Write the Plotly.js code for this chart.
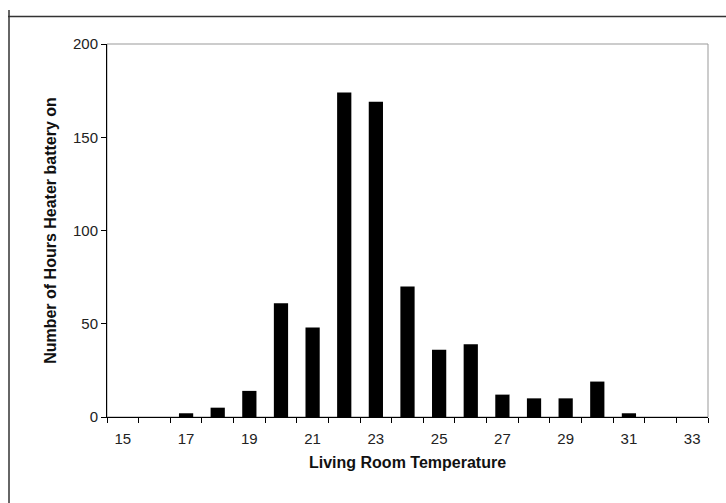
<!DOCTYPE html>
<html>
<head>
<meta charset="utf-8">
<script src="https://cdn.plot.ly/plotly-3.0.1.min.js"></script>
<style>
html,body{margin:0;padding:0;background:#fff;}
#chart{width:726px;height:503px;}
</style>
</head>
<body>
<div id="chart"></div>
<script>
const temperatures = [15,16,17,18,19,20,21,22,23,24,25,26,27,28,29,30,31,32,33];
const hoursOn =      [0, 0, 2, 5, 14,61,48,174,169,70,36,39,12,10,10,19,2, 0, 0];
const xTickLabels = ['15','17','19','21','23','25','27','29','31','33'];
const yTickValues = [0,50,100,150,200];

const labelVals = xTickLabels.map(Number);
const boundaries = temperatures.map(t => t - 0.5).concat([temperatures[temperatures.length-1] + 0.5]);

const L = 107, R = 708, T = 44, B = 417, W = 726, H = 503;
const px = x => (x - L) / (R - L);
const py = y => (B - y) / (B - T);

const family = 'Liberation Sans, Arial, sans-serif';
const tickFont = {family: family, size: 15, color: '#222'};
const titleFont = {family: family, size: 16, color: '#111', weight: 'bold'};

const data = [
  {type: 'bar', x: temperatures, y: hoursOn, marker: {color: '#000', line: {width: 0}}, width: 0.45, hoverinfo: 'x+y'},
  {type: 'scatter', x: labelVals, y: labelVals.map(() => 0), xaxis: 'x2', mode: 'markers', marker: {opacity: 0}, hoverinfo: 'skip', showlegend: false}
];

const layout = {
  width: W, height: H,
  margin: {l: L, r: W - R, t: T, b: H - B, pad: 0},
  paper_bgcolor: '#fff', plot_bgcolor: '#fff',
  showlegend: false,
  font: tickFont,
  xaxis: {
    range: [14.5, 33.5], tickmode: 'array', tickvals: boundaries, ticktext: boundaries.map(() => ''),
    ticks: 'outside', ticklen: 5, tickcolor: '#000', tickwidth: 1,
    showline: true, linecolor: '#000', linewidth: 1, showgrid: false, zeroline: false
  },
  xaxis2: {
    overlaying: 'x', matches: 'x', anchor: 'y', side: 'bottom',
    tickmode: 'array', tickvals: labelVals, ticktext: xTickLabels,
    ticks: '', ticklabelstandoff: 11, showline: false, showgrid: false, zeroline: false,
    tickfont: tickFont,
    title: {text: 'Living Room Temperature', font: titleFont, standoff: 10}
  },
  yaxis: {
    range: [0, 200], tickmode: 'array', tickvals: yTickValues,
    ticks: 'outside', ticklen: 5, tickcolor: '#000', tickwidth: 1,
    showline: true, linecolor: '#000', linewidth: 1, showgrid: false, zeroline: false,
    tickfont: tickFont,
    title: {text: 'Number of Hours Heater battery on', font: titleFont, standoff: 12}
  },
  shapes: [
    {type: 'rect', xref: 'paper', yref: 'paper', x0: 0, x1: 1, y0: 0, y1: 1, line: {color: '#999', width: 1}, layer: 'below'},
    {type: 'line', xref: 'paper', yref: 'paper', x0: px(8), x1: px(726), y0: py(16.5), y1: py(16.5), line: {color: '#333', width: 1.5}},
    {type: 'line', xref: 'paper', yref: 'paper', x0: px(9), x1: px(9), y0: py(10), y1: py(503), line: {color: '#333', width: 1.5}}
  ]
};

Plotly.newPlot('chart', data, layout, {staticPlot: true, displayModeBar: false});
</script>
</body>
</html>
